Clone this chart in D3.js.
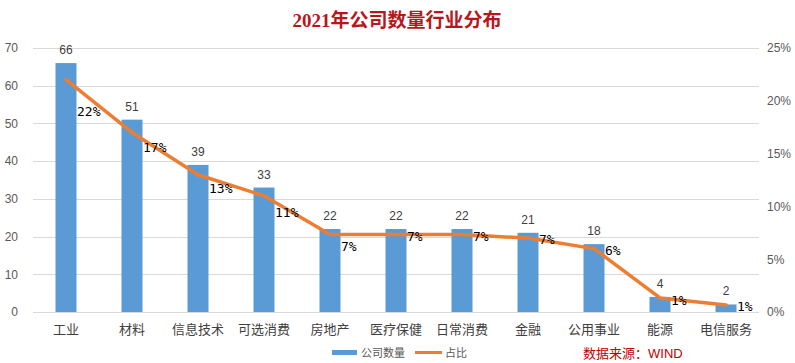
<!DOCTYPE html>
<html>
<head>
<meta charset="utf-8">
<script src="https://cdn.jsdelivr.net/npm/d3@7"></script>
<style>
  body { margin: 0; background: #fff; }
  svg { display: block; font-family: "Liberation Sans", Arial, "Noto Sans CJK SC", sans-serif; }
</style>
</head>
<body>
<div id="chart"></div>
<script>
// industries, company counts and share of total
const industries = ['工业', '材料', '信息技术', '可选消费', '房地产', '医疗保健', '日常消费', '金融', '公用事业', '能源', '电信服务']
const counts = [66, 51, 39, 33, 22, 22, 22, 21, 18, 4, 2]
const shares = [0.22, 0.17, 0.13, 0.11, 0.0733, 0.0733, 0.0733, 0.07, 0.06, 0.0133, 0.0067]
const shareLabels = ['22%', '17%', '13%', '11%', '7%', '7%', '7%', '7%', '6%', '1%', '1%']
const leftTicks = [0, 10, 20, 30, 40, 50, 60, 70]
const rightTicks = [0, 0.05, 0.10, 0.15, 0.20, 0.25]

const width = 795
const height = 363
const plot = {left: 33, right: 759, top: 48, bottom: 312}

// hand nudges of the % labels (pushed below the line at the start)
const labelDy = [31, 15, 13, 16, 11, 1, 1, 1, 1, 2, 1]

const svg = d3.select('#chart')
    .append('svg')
    .attr('width', width)
    .attr('height', height)

let xScale = d3.scaleBand()
    .domain(industries)
    .range([plot.left, plot.right])

let yScale = d3.scaleLinear()
    .domain([0, 70])
    .range([plot.bottom, plot.top])

let y2Scale = d3.scaleLinear()
    .domain([0, 0.25])
    .range([plot.bottom, plot.top])

// title
svg.append('text')
    .attr('x', 397)
    .attr('y', 27)
    .attr('text-anchor', 'middle')
    .style('font-family', '"Liberation Serif", "Noto Sans CJK SC", serif')
    .style('font-size', '19px')
    .style('font-weight', 'bold')
    .attr('fill', '#B8161B')
    .text('2021年公司数量行业分布')

// gridlines
svg.append('g')
    .attr('class', 'grid')
    .selectAll('line')
    .data(leftTicks)
    .join('line')
    .attr('x1', plot.left)
    .attr('x2', plot.right)
    .attr('y1', d => Math.round(yScale(d)) + 0.5)
    .attr('y2', d => Math.round(yScale(d)) + 0.5)
    .attr('stroke', '#d9d9d9')
    .attr('stroke-width', 1)

// left axis
let yAxis = d3.axisLeft(yScale).tickValues(leftTicks).tickSize(0).tickPadding(0)
let yAxisGroup = svg.append('g')
    .attr('transform', `translate(18,0)`)
    .call(yAxis)
yAxisGroup.select('.domain').remove()
yAxisGroup.selectAll('text')
    .style('font-size', '12px')
    .attr('fill', '#595959')

// right axis
let y2Axis = d3.axisRight(y2Scale).tickValues(rightTicks).tickSize(0).tickPadding(0)
    .tickFormat(d3.format('.0%'))
let y2AxisGroup = svg.append('g')
    .attr('transform', `translate(767,0)`)
    .call(y2Axis)
y2AxisGroup.select('.domain').remove()
y2AxisGroup.selectAll('text')
    .style('font-size', '12px')
    .attr('fill', '#595959')

// x axis
let xAxis = d3.axisBottom(xScale).tickSize(0).tickPadding(13)
let xAxisGroup = svg.append('g')
    .attr('transform', `translate(0,${plot.bottom})`)
    .call(xAxis)
xAxisGroup.select('.domain').remove()
xAxisGroup.selectAll('text')
    .style('font-family', '"Noto Sans CJK SC", sans-serif')
    .style('font-size', '13px')
    .attr('fill', '#404040')

const bw = 21

// bars
svg.append('g')
    .selectAll('rect')
    .data(counts)
    .join('rect')
    .attr('x', (d, i) => xScale(industries[i]) + xScale.bandwidth() / 2 - bw / 2)
    .attr('y', d => yScale(d))
    .attr('width', bw)
    .attr('height', d => plot.bottom - yScale(d))
    .attr('fill', '#5B9BD5')

// bar value labels
svg.append('g')
    .selectAll('text')
    .data(counts)
    .join('text')
    .attr('x', (d, i) => xScale(industries[i]) + xScale.bandwidth() / 2)
    .attr('y', d => yScale(d) - 9)
    .attr('text-anchor', 'middle')
    .style('font-size', '12px')
    .attr('fill', '#404040')
    .text(d => d)

// share line
const line = d3.line()
    .x((d, i) => xScale(industries[i]) + xScale.bandwidth() / 2)
    .y(d => y2Scale(d))

svg.append('path')
    .datum(shares)
    .attr('d', line)
    .attr('fill', 'none')
    .attr('stroke', '#ED7D31')
    .attr('stroke-width', 3.5)
    .attr('stroke-linejoin', 'round')
    .attr('stroke-linecap', 'round')

// share labels
svg.append('g')
    .selectAll('text')
    .data(shares)
    .join('text')
    .attr('x', (d, i) => xScale(industries[i]) + xScale.bandwidth() / 2 + 11)
    .attr('y', (d, i) => y2Scale(d) + labelDy[i] + 5)
    .style('font-family', '"DejaVu Sans Mono", monospace')
    .style('font-size', '13px')
    .attr('fill', '#000')
    .text((d, i) => shareLabels[i])

// legend
const legend = svg.append('g')
legend.append('rect')
    .attr('x', 332).attr('y', 350).attr('width', 25).attr('height', 5)
    .attr('fill', '#5B9BD5')
legend.append('text')
    .attr('x', 361).attr('y', 357)
    .style('font-family', '"Noto Sans CJK SC", sans-serif')
    .style('font-size', '11px')
    .attr('fill', '#595959')
    .text('公司数量')
legend.append('line')
    .attr('x1', 415).attr('x2', 442).attr('y1', 352.5).attr('y2', 352.5)
    .attr('stroke', '#ED7D31').attr('stroke-width', 3)
legend.append('text')
    .attr('x', 445).attr('y', 357)
    .style('font-family', '"Noto Sans CJK SC", sans-serif')
    .style('font-size', '11px')
    .attr('fill', '#595959')
    .text('占比')

// source note
svg.append('text')
    .attr('x', 583).attr('y', 358)
    .style('font-family', '"Liberation Sans", "Noto Sans CJK SC", sans-serif')
    .style('font-size', '13px')
    .attr('fill', '#C00000')
    .text('数据来源：WIND')
</script>
</body>
</html>
